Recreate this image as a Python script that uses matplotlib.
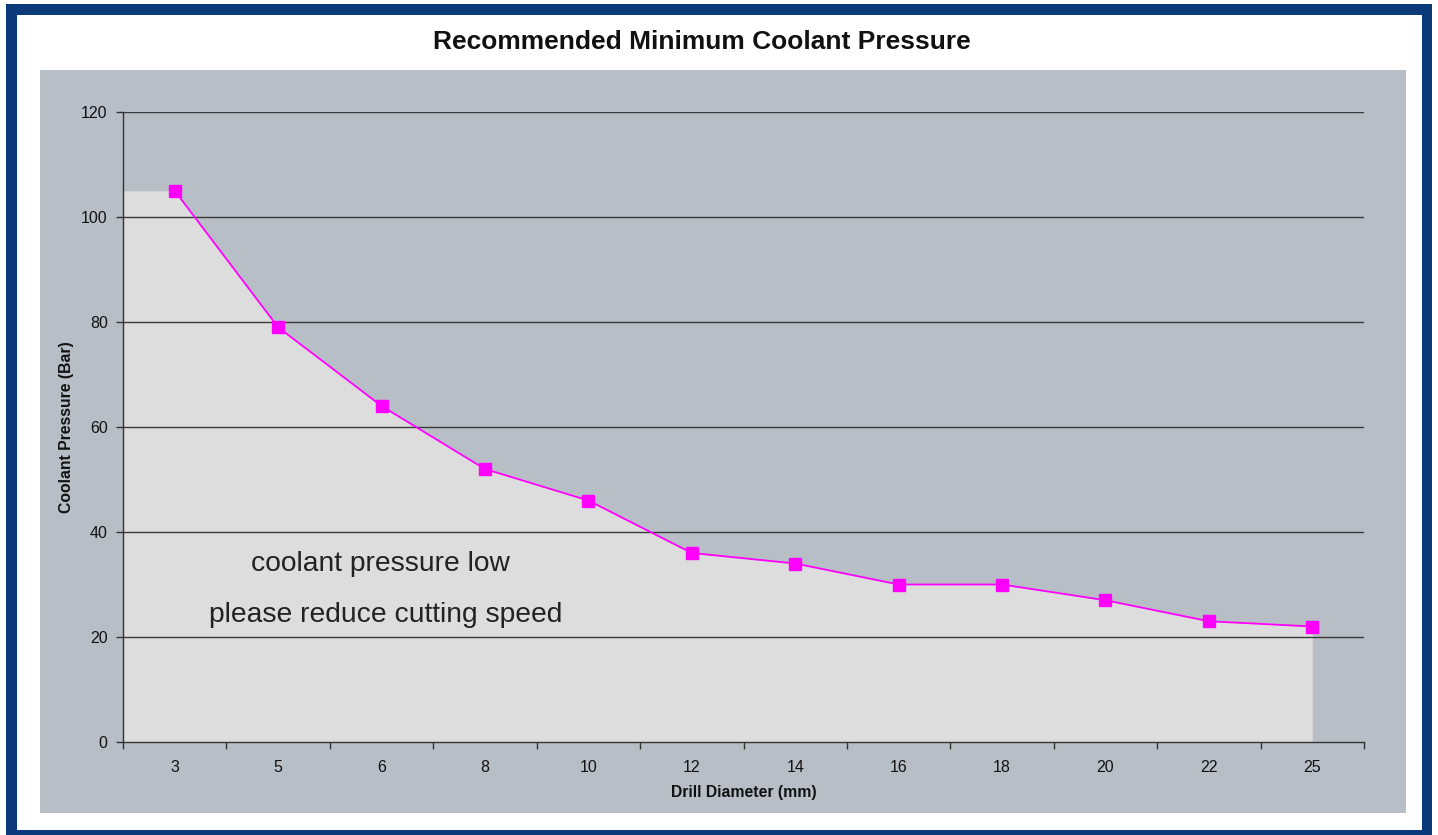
import matplotlib
matplotlib.use("Agg")
import matplotlib.pyplot as plt
from matplotlib.patches import Rectangle
import numpy as np

plt.rcParams['font.family'] = ['Liberation Sans', 'DejaVu Sans']

diameters = ["3", "5", "6", "8", "10", "12", "14", "16", "18", "20", "22", "25"]
pressure = [105, 79, 64, 52, 46, 36, 34, 30, 30, 27, 23, 22]
y_ticks = [0, 20, 40, 60, 80, 100, 120]

W, H = 1438, 835
fig = plt.figure(figsize=(W / 100, H / 100), dpi=100)
fig.patch.set_facecolor("white")

def px_rect(x0, y0, x1, y1, color, z):
    fig.patches.append(Rectangle((x0 / W, 1 - y1 / H), (x1 - x0) / W, (y1 - y0) / H,
                                 transform=fig.transFigure, facecolor=color,
                                 edgecolor="none", zorder=z))

# frame and panel
px_rect(6, 4, 1432, 840, "#0b3a78", -3)
px_rect(17, 15, 1422, 830, "white", -2)
px_rect(40, 70, 1406, 813, "#b8bec6", -1)

ax = fig.add_axes([123 / W, (H - 742) / H, (1364 - 123) / W, (742 - 112) / H])
ax.set_zorder(1)
ax.set_facecolor("#b8bec6")

x = np.arange(len(diameters))
fill_x = np.concatenate([[-0.5], x])
fill_y = np.concatenate([[pressure[0]], pressure])
ax.fill_between(fill_x, 0, fill_y, color="#dddddd", lw=0, zorder=1)

ax.plot(x, pressure, color="#ff00ff", lw=1.3, marker="s", markersize=8.5,
        markerfacecolor="#ff00ff", markeredgecolor="#ff00ff", zorder=4)

ax.set_xlim(-0.5, len(diameters) - 0.5)
ax.set_ylim(0, 120)
ax.set_yticks(y_ticks)
for v in y_ticks[1:]:
    ax.axhline(v, color="#3a3a3a", lw=1.0, zorder=2)

ax.set_xticks(x)
ax.set_xticklabels(diameters)
ax.set_xticks(np.arange(len(diameters) + 1) - 0.5, minor=True)
ax.tick_params(axis="x", which="major", length=0, pad=13, labelsize=11.5, colors="#111111")
ax.tick_params(axis="x", which="minor", length=5, width=1, color="#333333", direction="out")
ax.tick_params(axis="y", length=5, width=1, color="#333333", pad=6, labelsize=11.5,
               labelcolor="#111111")

for s in ["top", "right"]:
    ax.spines[s].set_visible(False)
for s in ["left", "bottom"]:
    ax.spines[s].set_color("#333333")
    ax.spines[s].set_linewidth(1.0)
    ax.spines[s].set_zorder(3)

fig.text(66 / W, 1 - 427 / H, "Coolant Pressure (Bar)", rotation=90, ha="center",
         va="center", fontsize=11.3, fontweight="bold", color="#111111", zorder=5)
fig.text(744 / W, 1 - 792 / H, "Drill Diameter (mm)", ha="center", va="center",
         fontsize=11.3, fontweight="bold", color="#111111", zorder=5)
fig.text(702 / W, 1 - 42 / H, "Recommended Minimum Coolant Pressure", ha="center",
         va="center", fontsize=19, fontweight="bold", color="#111111", zorder=5)

fig.text(380 / W, 1 - 564 / H, "coolant pressure low", ha="center", va="center",
         fontsize=20.3, color="#222222", zorder=5)
fig.text(386 / W, 1 - 615 / H, "please reduce cutting speed", ha="center", va="center",
         fontsize=20.3, color="#222222", zorder=5)

fig.savefig("out.png", dpi=100)
